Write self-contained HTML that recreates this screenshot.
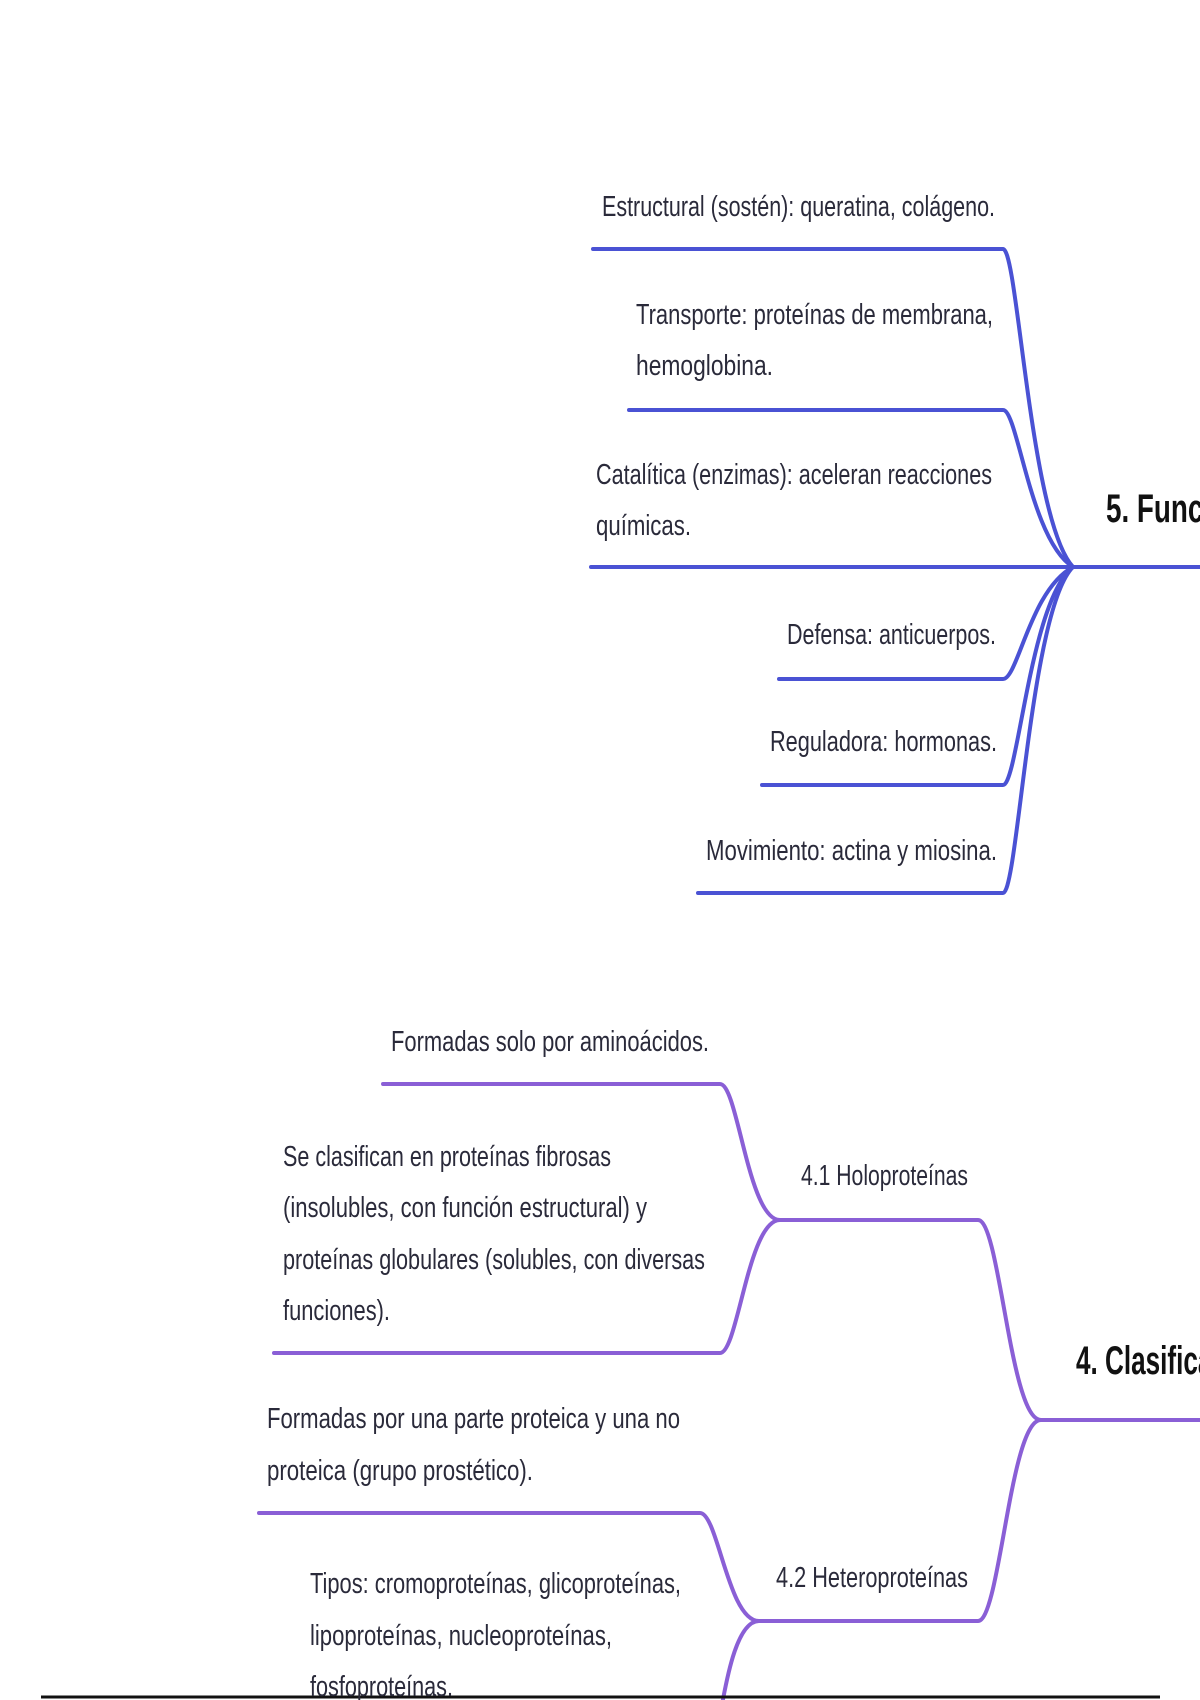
<!DOCTYPE html>
<html><head><meta charset="utf-8"><style>
html,body{margin:0;padding:0;background:#fff;}
svg{display:block}
text{font-family:"Liberation Sans",sans-serif;fill:#2a2a3a;font-size:29px}
.h{font-weight:bold;font-size:40px;fill:#111}
</style></head><body>
<svg width="1200" height="1700" viewBox="0 0 1200 1700" xmlns="http://www.w3.org/2000/svg">
<g fill="none" stroke="#4a52d4" stroke-width="4" stroke-linecap="round">
<path d="M593,249 H1003 C1018,249 1030,520 1073,567"/>
<path d="M629,410 H1003 C1018,410 1030,540 1073,567"/>
<path d="M591,567 H1200"/>
<path d="M779,679 H1003 C1018,679 1030,590 1073,567"/>
<path d="M762,785 H1003 C1018,785 1030,600 1073,567"/>
<path d="M698,893 H1003 C1018,893 1030,610 1073,567"/>
</g>
<g fill="none" stroke="#8a5fd6" stroke-width="4" stroke-linecap="round">
<path d="M383,1084 H720 C738,1084 748,1220 780,1220"/>
<path d="M274,1353 H720 C738,1353 748,1220 780,1220"/>
<path d="M780,1220 H978 C1000,1220 1010,1420 1041,1420"/>
<path d="M1041,1420 H1200"/>
<path d="M259,1513 H700 C718,1513 728,1621 759,1621"/>
<path d="M759,1621 H978 C1000,1621 1010,1420 1041,1420"/>
<path d="M759,1621 C735,1621 725,1690 721,1710"/>
</g>
<line x1="41" y1="1697" x2="1160" y2="1697" stroke="#111" stroke-width="3"/>
<text x="602" y="216" textLength="393" lengthAdjust="spacingAndGlyphs">Estructural (sostén): queratina, colágeno.</text>
<text x="636" y="324" textLength="357" lengthAdjust="spacingAndGlyphs">Transporte: proteínas de membrana,</text>
<text x="636" y="375" textLength="137" lengthAdjust="spacingAndGlyphs">hemoglobina.</text>
<text x="596" y="484" textLength="396" lengthAdjust="spacingAndGlyphs">Catalítica (enzimas): aceleran reacciones</text>
<text x="596" y="535" textLength="95" lengthAdjust="spacingAndGlyphs">químicas.</text>
<text class="h" x="1106" y="522" textLength="170" lengthAdjust="spacingAndGlyphs">5. Funciones</text>
<text x="787" y="644" textLength="209" lengthAdjust="spacingAndGlyphs">Defensa: anticuerpos.</text>
<text x="770" y="751" textLength="227" lengthAdjust="spacingAndGlyphs">Reguladora: hormonas.</text>
<text x="706" y="860" textLength="291" lengthAdjust="spacingAndGlyphs">Movimiento: actina y miosina.</text>
<text x="391" y="1051" textLength="318" lengthAdjust="spacingAndGlyphs">Formadas solo por aminoácidos.</text>
<text x="283" y="1166" textLength="328" lengthAdjust="spacingAndGlyphs">Se clasifican en proteínas fibrosas</text>
<text x="283" y="1217" textLength="364" lengthAdjust="spacingAndGlyphs">(insolubles, con función estructural) y</text>
<text x="283" y="1269" textLength="422" lengthAdjust="spacingAndGlyphs">proteínas globulares (solubles, con diversas</text>
<text x="283" y="1320" textLength="107" lengthAdjust="spacingAndGlyphs">funciones).</text>
<text x="801" y="1185" textLength="167" lengthAdjust="spacingAndGlyphs">4.1 Holoproteínas</text>
<text class="h" x="1076" y="1374" textLength="190" lengthAdjust="spacingAndGlyphs">4. Clasificación</text>
<text x="267" y="1428" textLength="413" lengthAdjust="spacingAndGlyphs">Formadas por una parte proteica y una no</text>
<text x="267" y="1480" textLength="266" lengthAdjust="spacingAndGlyphs">proteica (grupo prostético).</text>
<text x="776" y="1587" textLength="192" lengthAdjust="spacingAndGlyphs">4.2 Heteroproteínas</text>
<text x="310" y="1593" textLength="371" lengthAdjust="spacingAndGlyphs">Tipos: cromoproteínas, glicoproteínas,</text>
<text x="310" y="1645" textLength="302" lengthAdjust="spacingAndGlyphs">lipoproteínas, nucleoproteínas,</text>
<text x="310" y="1696" textLength="143" lengthAdjust="spacingAndGlyphs">fosfoproteínas.</text>
</svg>
</body></html>
